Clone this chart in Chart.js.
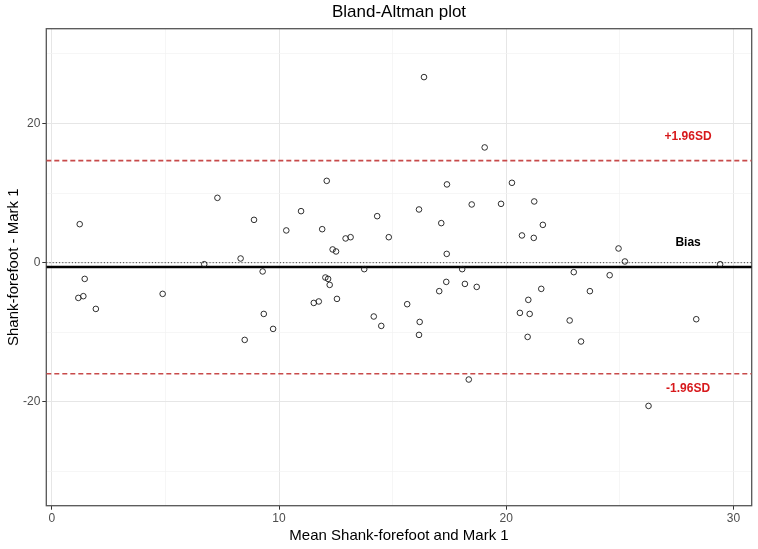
<!DOCTYPE html>
<html>
<head>
<meta charset="utf-8">
<script src="https://cdn.jsdelivr.net/npm/chart.js@4/dist/chart.umd.min.js"></script>
<style>
html,body{margin:0;padding:0;background:#fff;}
#wrap{width:758px;height:549px;position:relative;}
</style>
</head>
<body>
<div id="wrap"><canvas id="c" width="758" height="549"></canvas></div>
<script>
// ---- data ----
const meanVals = [1.23,7.29,8.90,8.31,6.71,1.45,1.39,1.17,1.94,4.88,8.49,19.05,12.10,17.39,10.97,18.48,19.77,16.16,10.32,11.90,14.32,17.14,12.93,13.15,14.83,12.36,12.51,17.38,9.28,13.75,18.06,12.04,12.16,12.23,17.36,18.18,18.70,17.05,12.55,11.53,11.75,15.64,9.33,14.17,16.19,14.50,9.74,16.16,18.35,20.25,21.23,21.61,20.69,21.21,24.94,25.22,29.41,22.97,24.55,21.54,23.68,20.97,20.60,21.03,22.79,28.36,20.94,23.29,26.26,16.38];
const diffVals = [5.53,9.31,6.15,0.60,-0.22,-2.33,-4.81,-5.06,-6.64,-4.48,-11.09,16.55,11.75,11.24,7.40,8.36,8.45,7.64,4.63,4.81,6.68,5.68,3.48,3.66,3.66,1.90,1.61,1.26,-1.26,-0.93,-0.93,-2.13,-2.33,-3.19,-2.76,-3.05,-3.48,-4.09,-5.20,-5.78,-5.57,-5.96,-7.36,-7.73,-8.51,-9.08,-9.51,-10.37,-16.78,11.47,8.79,5.43,3.91,3.56,2.04,0.17,-0.22,-1.36,-1.80,-3.76,-4.09,-5.34,-7.21,-7.36,-8.30,-8.12,-10.66,-11.32,-20.57,26.65];
const bias = -0.62;
const upperLoA = 14.66;
const lowerLoA = -15.95;
const zeroLine = 0;
const xMin = -0.24, xMax = 30.8;
const yMin = -34.9, yMax = 33.6;
const xTickVals = [0,5,10,15,20,25,30];
const xTickLabels = ['0','','10','','20','','30'];
const yTickVals = [-30,-20,-10,0,10,20,30];
const yTickLabels = ['','-20','','0','','20',''];
const annotLabels = ['+1.96SD','Bias','-1.96SD'];
const annotX = [28.0,28.0,28.0];
const annotY = [18.05,2.85,-18.1];
const annotColors = ['#D7191C','#000000','#D7191C'];

const FONT = "'Liberation Sans', Arial, sans-serif";
const points = meanVals.map((m,i)=>({x:m,y:diffVals[i]}));
const hline = v => [{x:xMin,y:v},{x:xMax,y:v}];

const isMajorX = v => xTickLabels[xTickVals.indexOf(v)] !== '';
const isMajorY = v => yTickLabels[yTickVals.indexOf(v)] !== '';

const decor = {
  id:'decor',
  beforeDatasetsDraw(chart){
    const {ctx, chartArea:a} = chart;
    ctx.save();
    ctx.strokeStyle = '#555';
    ctx.lineWidth = 1.3;
    ctx.strokeRect(a.left, a.top, a.right-a.left, a.bottom-a.top);
    ctx.restore();
  },
  afterDraw(chart){
    const {ctx, chartArea:a, scales} = chart;
    ctx.save();
    ctx.font = "bold 12px " + FONT;
    ctx.textAlign = 'center';
    ctx.textBaseline = 'middle';
    annotLabels.forEach((t,i)=>{
      ctx.fillStyle = annotColors[i];
      ctx.fillText(t, scales.x.getPixelForValue(annotX[i]), scales.y.getPixelForValue(annotY[i]));
    });
    ctx.fillStyle = '#000';
    ctx.font = "17px " + FONT;
    ctx.fillText('Bland-Altman plot', (a.left+a.right)/2, 12);
    ctx.restore();
  }
};

new Chart(document.getElementById('c'), {
  type:'scatter',
  data:{
    datasets:[
      {type:'line', data:hline(zeroLine), borderColor:'#333', borderWidth:1, borderDash:[1,2.2], pointRadius:0, fill:false, order:3},
      {type:'line', data:hline(bias), borderColor:'#000', borderWidth:2.6, pointRadius:0, fill:false, order:3},
      {type:'line', data:hline(upperLoA), borderColor:'#C84A4A', borderWidth:1.6, borderDash:[5,3], pointRadius:0, fill:false, order:3},
      {type:'line', data:hline(lowerLoA), borderColor:'#C84A4A', borderWidth:1.6, borderDash:[5,3], pointRadius:0, fill:false, order:3},
      {data:points, pointRadius:2.8, pointBorderWidth:0.9, pointBackgroundColor:'rgba(0,0,0,0)', pointBorderColor:'#1a1a1a', pointStyle:'circle', order:1}
    ]
  },
  options:{
    responsive:false,
    animation:false,
    devicePixelRatio:1,
    layout:{padding:{top:28.7,right:6.3,left:0,bottom:0}},
    plugins:{legend:{display:false}, tooltip:{enabled:false}, title:{display:false}},
    scales:{
      x:{
        type:'linear', min:xMin, max:xMax,
        afterBuildTicks(s){ s.ticks = xTickVals.map(v=>({value:v})); },
        afterFit(s){ s.height = 43.3; },
        border:{display:false},
        grid:{
          color:ctx=> isMajorX(ctx.tick.value) ? '#E6E6E6' : '#F2F2F2',
          lineWidth:ctx=> isMajorX(ctx.tick.value) ? 1 : 0.7,
          tickColor:ctx=> isMajorX(ctx.tick.value) ? '#333' : 'rgba(0,0,0,0)',
          tickLength:4, drawTicks:true
        },
        ticks:{
          autoSkip:false, maxRotation:0, padding:2,
          color:'#4D4D4D', font:{family:FONT, size:12},
          callback:(v)=> { const i = xTickVals.indexOf(v); return i>=0 ? xTickLabels[i] : ''; }
        },
        title:{display:true, text:'Mean Shank-forefoot and Mark 1', color:'#000', font:{family:FONT, size:15}, padding:{top:0,bottom:4}}
      },
      y:{
        type:'linear', min:yMin, max:yMax,
        afterBuildTicks(s){ s.ticks = yTickVals.map(v=>({value:v})); },
        afterFit(s){ s.width = 46.3; },
        border:{display:false},
        grid:{
          color:ctx=> isMajorY(ctx.tick.value) ? '#E6E6E6' : '#F2F2F2',
          lineWidth:ctx=> isMajorY(ctx.tick.value) ? 1 : 0.7,
          tickColor:ctx=> isMajorY(ctx.tick.value) ? '#333' : 'rgba(0,0,0,0)',
          tickLength:4, drawTicks:true
        },
        ticks:{
          autoSkip:false, padding:2,
          color:'#4D4D4D', font:{family:FONT, size:12},
          callback:(v)=> { const i = yTickVals.indexOf(v); return i>=0 ? yTickLabels[i] : ''; }
        },
        title:{display:true, text:'Shank-forefoot - Mark 1', color:'#000', font:{family:FONT, size:15}, padding:{top:5,bottom:0}}
      }
    }
  },
  plugins:[decor]
});
</script>
</body>
</html>
